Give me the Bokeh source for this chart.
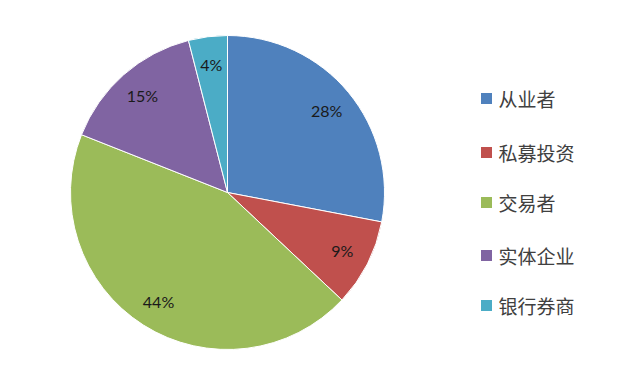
import math
from bokeh.plotting import figure
from bokeh.models import ColumnDataSource, Range1d
from bokeh.core.properties import value
from bokeh.embed import file_html
from bokeh.resources import INLINE

categories = ["从业者", "私募投资", "交易者", "实体企业", "银行券商"]
shares = [28, 9, 44, 15, 4]
pct_labels = ["28%", "9%", "44%", "15%", "4%"]
colors = ["#4F81BD", "#C0504D", "#9BBB59", "#8064A2", "#4BACC6"]

W, H = 602, 358
p = figure(width=W, height=H, output_backend="svg", toolbar_location=None,
           x_range=Range1d(0, W), y_range=Range1d(0, H), min_border=0)
p.axis.visible = False
p.grid.visible = False
p.outline_line_color = None
p.background_fill_color = "white"
p.border_fill_color = "white"

cx, cy, R = 227, 166, 157
total = sum(shares)
starts, ends, lx, ly = [], [], [], []
cum = 0
for v in shares:
    a0 = math.pi / 2 - 2 * math.pi * (cum + v) / total
    a1 = math.pi / 2 - 2 * math.pi * cum / total
    starts.append(a0)
    ends.append(a1)
    mid = (a0 + a1) / 2
    lx.append(cx + 0.82 * R * math.cos(mid))
    ly.append(cy + 0.82 * R * math.sin(mid))
    cum += v

src = ColumnDataSource(dict(start=starts, end=ends, color=colors, lx=lx, ly=ly, lab=pct_labels))
p.wedge(x=cx, y=cy, radius=R, start_angle="start", end_angle="end",
        fill_color="color", line_color="white", line_width=1, source=src)
p.text(x="lx", y="ly", text="lab", source=src, text_align="center", text_baseline="middle",
       text_font=value("Lato"), text_font_size="16px", text_color="#1a1a1a")

# legend
leg_y = [260, 206, 156, 103, 53]
lsrc = ColumnDataSource(dict(y=leg_y, color=colors, name=categories))
p.rect(x=486, y="y", width=11, height=11, fill_color="color", line_color=None, source=lsrc)
p.text(x=498, y="y", text="name", source=lsrc, text_align="left", text_baseline="middle",
       text_font=value("Noto Sans CJK SC"), text_font_size="19px", text_color="#404040")

open("out.html", "w").write(file_html(p, INLINE))
